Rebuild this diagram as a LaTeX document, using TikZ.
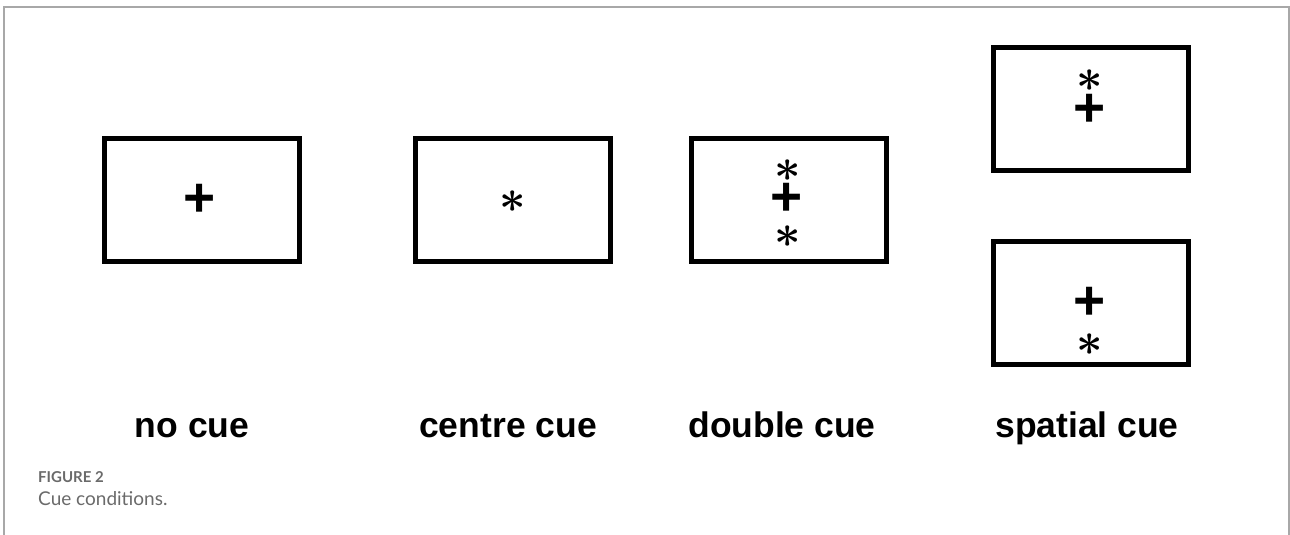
\documentclass[tikz,border=0pt]{standalone}
\usepackage{fontspec}
\setmainfont{Liberation Sans}
\newfontfamily\capfont{Lato}
\definecolor{capgray}{HTML}{6A6A6A}
\definecolor{framegray}{HTML}{A8A8A8}
\begin{document}
\begin{tikzpicture}[x=1pt,y=1pt,
  cuebox/.style={draw,line width=5pt,minimum width=195pt,minimum height=123pt,inner sep=0pt},
  fix/.style={inner sep=0pt,font=\fontsize{55}{55}\selectfont\bfseries},
  cue/.style={inner sep=0pt,scale=4.6,font=\boldmath},
  lab/.style={anchor=base,inner sep=0pt,font=\fontsize{35.5}{40}\selectfont\bfseries}]
\useasboundingbox (0,0) rectangle (1290,535);
\draw[framegray,line width=1.2pt] (4,0)--(4,528)--(1289,528)--(1289,0);

\node[cuebox] (N) at (202,335){};
\node[cuebox] (C) at (512.5,335){};
\node[cuebox] (D) at (789,335){};
\node[cuebox] (S1) at (1091,425.5){};
\node[cuebox] (S2) at (1091,232){};

\node[fix] (N0) at (200,335){+};
\node[cue] (C0) at (513,333){$\ast$};
\node[cue] (D1) at (787.5,364){$\ast$};	\node[fix] (D0) at (787,335.5){+};	\node[cue] (D2) at (787.5,298){$\ast$};
\node[cue] (S11) at (1089.5,454.5){$\ast$};	\node[fix] (S10) at (1089.5,425){+};
\node[fix] (S20) at (1089.5,231.5){+};	\node[cue] (S21) at (1089.5,190){$\ast$};

\node[lab] (NL) at (192,97){no cue};
\node[lab] (CL) at (508,97){centre cue};
\node[lab] (DL) at (782,97){double cue};
\node[lab] (SL) at (1087,97){spatial cue};

\node[anchor=base west,inner sep=0pt,capgray,font=\capfont\bfseries\fontsize{15}{17}\selectfont] (F) at (38,52){FIGURE 2};
\node[anchor=base west,inner sep=0pt,capgray,font=\capfont\fontsize{19}{22}\selectfont] (T) at (38,29){Cue conditions.};
\end{tikzpicture}
\end{document}
